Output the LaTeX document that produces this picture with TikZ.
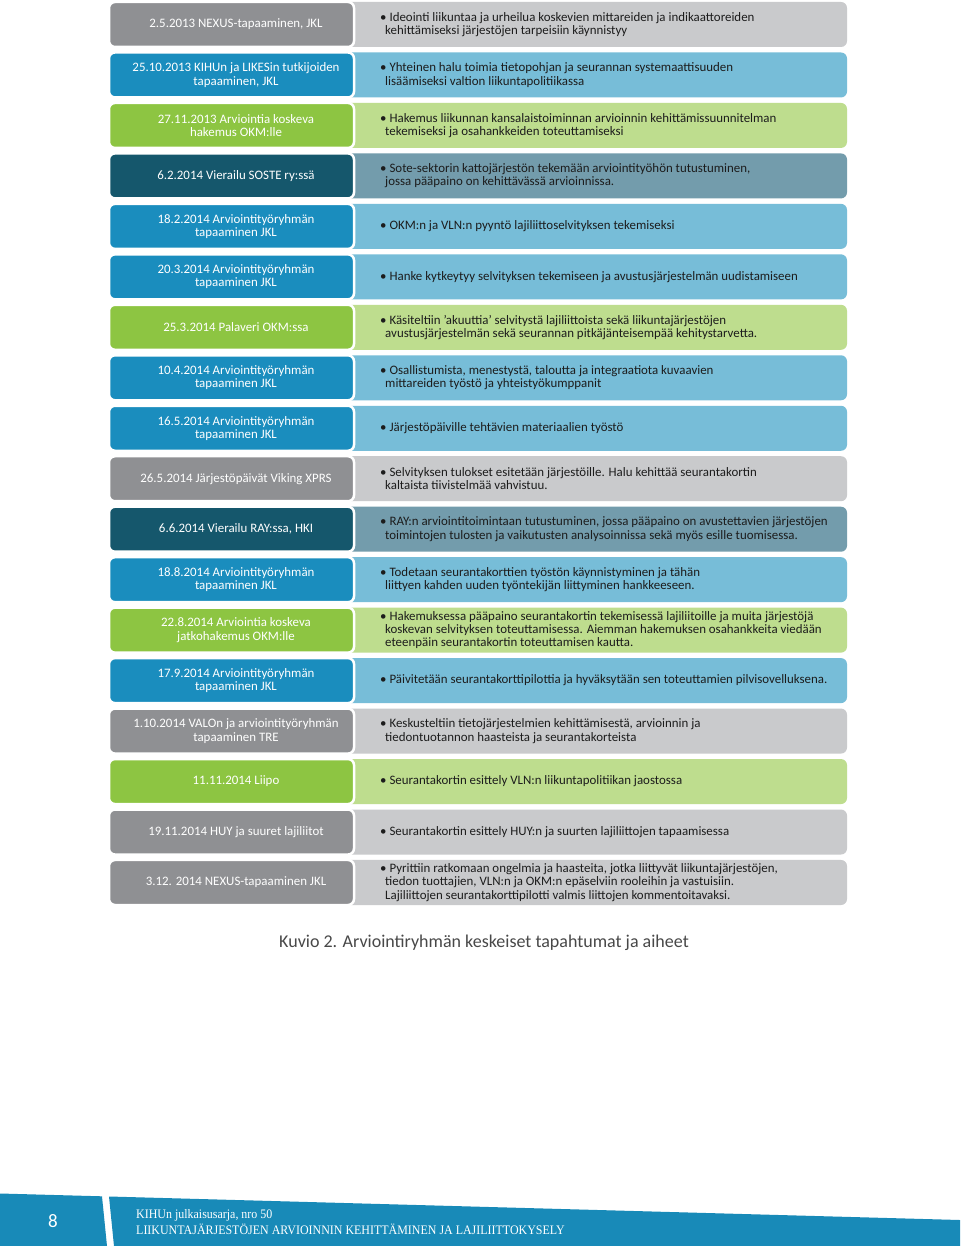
\documentclass[tikz,border=0pt]{standalone}
\usepackage{fontspec}
\setmainfont{Carlito}
\newfontfamily\footfont[FakeStretch=0.92]{Liberation Serif}
\definecolor{gL}{RGB}{143,144,147}
\definecolor{gR}{RGB}{201,202,204}
\definecolor{bL}{RGB}{26,141,190}
\definecolor{bR}{RGB}{119,189,216}
\definecolor{nL}{RGB}{141,197,66}
\definecolor{nR}{RGB}{190,221,142}
\definecolor{dL}{RGB}{21,87,108}
\definecolor{dR}{RGB}{115,156,172}
\definecolor{band}{RGB}{24,138,184}
\definecolor{captxt}{RGB}{72,72,72}
\definecolor{rtext}{RGB}{28,28,28}
\tikzset{
  rbox/.style={rectangle, rounded corners=6pt, minimum width=507pt, minimum height=45pt, inner sep=0pt},
  lbox/.style={rectangle, rounded corners=6pt, draw=white, line width=2.5pt, minimum width=245pt, minimum height=45pt, inner sep=0pt},
  ltxt/.style={align=center, inner sep=0pt, text=white, font=\fontsize{12.9}{13.3}\selectfont},
  rtxt/.style={anchor=west, align=left, inner sep=0pt, text=rtext, font=\fontsize{12.9}{13.3}\selectfont},
}
\newcommand\nl{\\\hspace*{5pt}}
\newcommand\tlrow[4]{%
  \pgfmathsetmacro\yc{2+(#1-1)*50.47+22.5}
  \node[rbox, fill=#2R] (R#1) at (593.5,\yc) {};
  \node[lbox, fill=#2L] (L#1) at (231.5,\yc) {};
  \node[ltxt] (LT#1) at (236,\yc) {#3};
  \node[rtxt] (T#1) at (380,\yc) {\textbullet\ #4};
}
\begin{document}
\begin{tikzpicture}[x=1pt,y=-1pt]
\useasboundingbox (0,0) rectangle (960,1246);
\fill[white] (0,0) rectangle (960,1246);
\tlrow{1}{g}{2.5.2013 NEXUS-tapaaminen, JKL}{Ideointi liikuntaa ja urheilua koskevien mittareiden ja indikaattoreiden\nl kehittämiseksi järjestöjen tarpeisiin käynnistyy}
\tlrow{2}{b}{25.10.2013 KIHUn ja LIKESin tutkijoiden\\tapaaminen, JKL}{Yhteinen halu toimia tietopohjan ja seurannan systemaattisuuden\nl lisäämiseksi valtion liikuntapolitiikassa}
\tlrow{3}{n}{27.11.2013 Arviointia koskeva\\hakemus OKM:lle}{Hakemus liikunnan kansalaistoiminnan arvioinnin kehittämissuunnitelman\nl tekemiseksi ja osahankkeiden toteuttamiseksi}
\tlrow{4}{d}{6.2.2014 Vierailu SOSTE ry:ssä}{Sote-sektorin kattojärjestön tekemään arviointityöhön tutustuminen,\nl jossa pääpaino on kehittävässä arvioinnissa.}
\tlrow{5}{b}{18.2.2014 Arviointityöryhmän\\tapaaminen JKL}{OKM:n ja VLN:n pyyntö lajiliittoselvityksen tekemiseksi}
\tlrow{6}{b}{20.3.2014 Arviointityöryhmän\\tapaaminen JKL}{Hanke kytkeytyy selvityksen tekemiseen ja avustusjärjestelmän uudistamiseen}
\tlrow{7}{n}{25.3.2014 Palaveri OKM:ssa}{Käsiteltiin 'akuuttia' selvitystä lajiliittoista sekä liikuntajärjestöjen\nl avustusjärjestelmän sekä seurannan pitkäjänteisempää kehitystarvetta.}
\tlrow{8}{b}{10.4.2014 Arviointityöryhmän\\tapaaminen JKL}{Osallistumista, menestystä, taloutta ja integraatiota kuvaavien\nl mittareiden työstö ja yhteistyökumppanit}
\tlrow{9}{b}{16.5.2014 Arviointityöryhmän\\tapaaminen JKL}{Järjestöpäiville tehtävien materiaalien työstö}
\tlrow{10}{g}{26.5.2014 Järjestöpäivät Viking XPRS}{Selvityksen tulokset esitetään järjestöille. Halu kehittää seurantakortin\nl kaltaista tiivistelmää vahvistuu.}
\tlrow{11}{d}{6.6.2014 Vierailu RAY:ssa, HKI}{RAY:n arviointitoimintaan tutustuminen, jossa pääpaino on avustettavien järjestöjen\nl toimintojen tulosten ja vaikutusten analysoinnissa sekä myös esille tuomisessa.}
\tlrow{12}{b}{18.8.2014 Arviointityöryhmän\\tapaaminen JKL}{Todetaan seurantakorttien työstön käynnistyminen ja tähän\nl liittyen kahden uuden työntekijän liittyminen hankkeeseen.}
\tlrow{13}{n}{22.8.2014 Arviointia koskeva\\jatkohakemus OKM:lle}{Hakemuksessa pääpaino seurantakortin tekemisessä lajiliitoille ja muita järjestöjä\nl koskevan selvityksen toteuttamisessa. Aiemman hakemuksen osahankkeita viedään\nl eteenpäin seurantakortin toteuttamisen kautta.}
\tlrow{14}{b}{17.9.2014 Arviointityöryhmän\\tapaaminen JKL}{Päivitetään seurantakorttipilottia ja hyväksytään sen toteuttamien pilvisovelluksena.}
\tlrow{15}{g}{1.10.2014 VALOn ja arviointityöryhmän\\tapaaminen TRE}{Keskusteltiin tietojärjestelmien kehittämisestä, arvioinnin ja\nl tiedontuotannon haasteista ja seurantakorteista}
\tlrow{16}{n}{11.11.2014 Liipo}{Seurantakortin esittely VLN:n liikuntapolitiikan jaostossa}
\tlrow{17}{g}{19.11.2014 HUY ja suuret lajiliitot}{Seurantakortin esittely HUY:n ja suurten lajiliittojen tapaamisessa}
\tlrow{18}{g}{3.12. 2014 NEXUS-tapaaminen JKL}{Pyrittiin ratkomaan ongelmia ja haasteita, jotka liittyvät liikuntajärjestöjen,\nl tiedon tuottajien, VLN:n ja OKM:n epäselviin rooleihin ja vastuisiin.\nl Lajiliittojen seurantakorttipilotti valmis liittojen kommentoitavaksi.}
\node[text=captxt, font=\fontsize{18}{21}\selectfont, inner sep=0pt] (cap) at (484,943) {Kuvio 2. Arviointiryhmän keskeiset tapahtumat ja aiheet};
% footer band
\fill[band] (0,1193.5) -- (102,1196.3) -- (107,1246) -- (0,1246) -- cycle;
\fill[band] (109,1196.5) -- (960,1220) -- (960,1246) -- (114,1246) -- cycle;
\node[text=white, font=\fontsize{19}{22}\selectfont, inner sep=0pt] (pg) at (53,1221) {8};
\node[anchor=west, align=left, text=white, font=\footfont\fontsize{13}{16}\selectfont, inner sep=0pt] (ft) at (136,1222) {KIHUn julkaisusarja, nro 50\\LIIKUNTAJÄRJESTÖJEN ARVIOINNIN KEHITTÄMINEN JA LAJILIITTOKYSELY};
\end{tikzpicture}
\end{document}
